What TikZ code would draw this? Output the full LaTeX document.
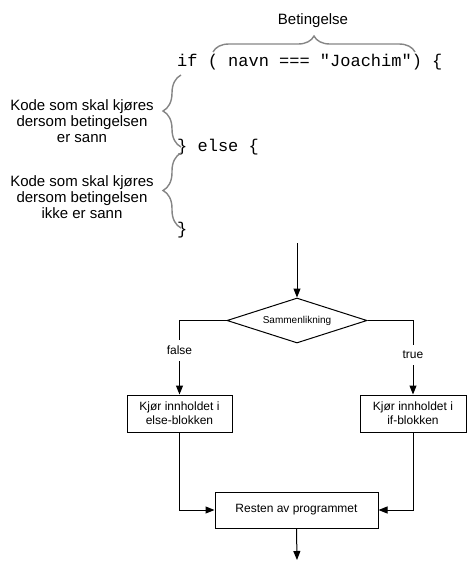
\documentclass[tikz,border=0pt]{standalone}
\usepackage{fontspec}
\setmainfont{Liberation Sans}
\setmonofont{Liberation Mono}
\usetikzlibrary{shapes.geometric,decorations.pathreplacing,arrows.meta}
\begin{document}
\begin{tikzpicture}[x=1pt,y=-1pt,
  lbl/.style={font=\fontsize{15}{16}\selectfont, align=center, inner sep=0pt},
  codetxt/.style={font=\fontsize{17}{17}\selectfont\ttfamily, anchor=west, inner sep=0pt},
  brc/.style={draw=black!48, line width=1.4pt, decorate},
  box/.style={draw, line width=1pt, align=center, inner sep=0pt, font=\fontsize{12}{14}\selectfont},
  arr/.style={-{Triangle[length=9pt,width=7pt]}, line width=1pt},
  branchlbl/.style={fill=white, inner xsep=2pt, inner ysep=6pt, font=\fontsize{12}{14}\selectfont},
]
\useasboundingbox (0,0) rectangle (476,574);

% code part
\node[lbl] (bet) at (313,21) {Betingelse};
\coordinate (b1) at (213,52);
\coordinate (b2) at (415,52);
\draw[brc, decoration={brace, amplitude=16pt}] (b1) -- (b2);

\node[codetxt] (ifline) at (177,62) {if ( navn === "Joachim") \{};
\node[codetxt] (elseline) at (177,147) {\} else \{};
\node[codetxt] (closeline) at (177,230) {\}};

\coordinate (c1) at (181,147);
\coordinate (c2) at (181,75);
\coordinate (c3) at (181,228);
\coordinate (c4) at (181,153);
\draw[brc, decoration={brace, amplitude=18pt}] (c1) -- (c2);
\draw[brc, decoration={brace, amplitude=18pt}] (c3) -- (c4);

\node[lbl] (t1) at (82,121) {Kode som skal kjøres\\dersom betingelsen\\er sann};
\node[lbl] (t2) at (82,197) {Kode som skal kjøres\\dersom betingelsen\\ikke er sann};

% flowchart
\coordinate (start) at (297,243);
\node[draw, diamond, line width=1pt, minimum width=140pt, minimum height=45pt, inner sep=0pt, aspect=3.1,
      font=\fontsize{10}{12}\selectfont] (cmp) at (297,320.5) {Sammenlikning};
\node[box, minimum width=105pt, minimum height=37pt] (ebox) at (179.5,413.5) {Kjør innholdet i\\else-blokken};
\node[box, minimum width=106pt, minimum height=37pt] (ibox) at (413,413.5) {Kjør innholdet i\\if-blokken};
\node[box, minimum width=163pt, minimum height=36pt] (rest) at (296.5,510) {Resten av programmet};
\coordinate (end) at (297,560);

\draw[arr] (start) -- (cmp.north);
\draw[arr] (cmp.west) -| (ebox.north) node[branchlbl, pos=0.7] (flbl) {false};
\draw[arr] (cmp.east) -| (ibox.north) node[branchlbl, pos=0.733] (tlbl) {true};
\draw[arr] (ebox.south) |- (rest.west);
\draw[arr] (ibox.south) |- (rest.east);
\draw[arr] (rest.south) -- (end);
\end{tikzpicture}
\end{document}
